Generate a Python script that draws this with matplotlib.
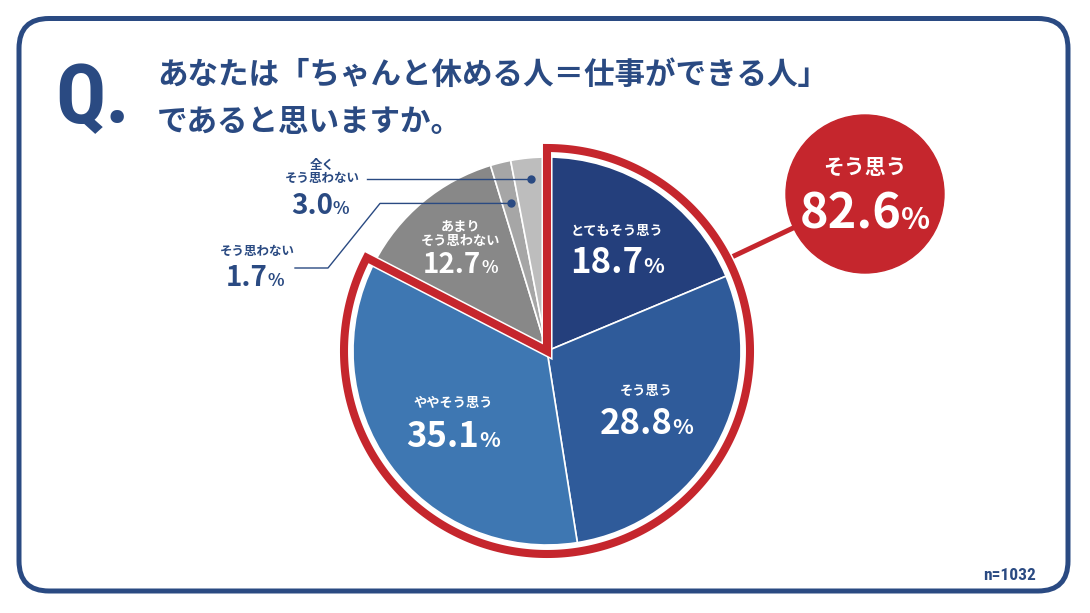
import numpy as np
import matplotlib
matplotlib.use("Agg")
import matplotlib.pyplot as plt
from matplotlib import font_manager
from matplotlib.patches import FancyBboxPatch, Circle, Polygon
import matplotlib.patheffects as pe

plt.rcParams['font.family'] = ['Noto Sans CJK JP', 'DejaVu Sans']

# data
labels = ['とてもそう思う', 'そう思う', 'ややそう思う', 'あまり\nそう思わない', 'そう思わない', '全く\nそう思わない']
values = [18.7, 28.8, 35.1, 12.7, 1.7, 3.0]
colors = ['#243f7c', '#2f5b9a', '#3e77b2', '#888888', '#a6a6a6', '#bdbdbd']
n_agree = 3            # first three slices = "そう思う" total
agree_label = 'そう思う'
title_lines = ['あなたは「ちゃんと休める人＝仕事ができる人」', 'であると思いますか。']
n_total = 1032

NAVY = '#2a4a82'
RED = '#c5262d'
W, H = 1090, 613

names = {f.name for f in font_manager.fontManager.ttflist}
narrow = [n for n in ['Liberation Sans Narrow', 'Roboto Condensed', 'DejaVu Sans Condensed',
                      'Liberation Sans'] if n in names][:1] + ['DejaVu Sans']
q_size = 74 if narrow[0] == 'Liberation Sans Narrow' else 60


def py(y):
    # pixel row (from top) -> data y
    return H - y


fig = plt.figure(figsize=(W / 100, H / 100), dpi=100)
ax = fig.add_axes([0, 0, 1, 1])

cx, cy, R = 547, py(351), 194
wedges, _ = ax.pie(values, colors=colors, startangle=90, counterclock=False,
                   radius=R, center=(cx, cy),
                   wedgeprops=dict(edgecolor='white', linewidth=1.2))
ax.set_xlim(0, W)
ax.set_ylim(0, H)
ax.set_aspect('equal')
ax.axis('off')

# frame
frame = FancyBboxPatch((19, py(591)), 1068 - 19, 591 - 18.5,
                       boxstyle='round,pad=0,rounding_size=30',
                       fill=False, edgecolor=NAVY, linewidth=3.6, zorder=1)
ax.add_patch(frame)

# red outline round the agree slices
frac = sum(values[:n_agree]) / sum(values)
Rr = 203
ang = np.radians(np.linspace(90, 90 - 360 * frac, 300))
pts = [(cx, cy)] + list(zip(cx + Rr * np.cos(ang), cy + Rr * np.sin(ang)))
ax.add_patch(Polygon(pts, closed=True, fill=False, edgecolor=RED, linewidth=5.8,
                     joinstyle='miter', zorder=5,
                     path_effects=[pe.Stroke(linewidth=8.0, foreground='white'), pe.Normal()]))

# callout circle
ccx, ccy, cr = 865, py(194), 79
a0 = np.radians(27)
ax.plot([cx + Rr * np.cos(a0), ccx], [cy + Rr * np.sin(a0), ccy], color=RED, lw=3.6, zorder=4,
        solid_capstyle='butt')
ax.add_patch(Circle((ccx, ccy), cr, color=RED, zorder=6))

pct_items = []


def pct_text(x, yc, value, size, color, z=7):
    cap = 0.73 * size * 100 / 72
    base = yc - cap / 2
    t1 = ax.text(x, base, f'{value:.1f}', fontsize=size, color=color, weight='bold',
                 ha='left', va='baseline', zorder=z)
    t2 = ax.text(x, base, '%', fontsize=size * 0.62, color=color, weight='bold',
                 ha='left', va='baseline', zorder=z)
    pct_items.append((x, t1, t2))


ax.text(ccx, py(167), agree_label, fontsize=15, color='white', weight='bold',
        ha='center', va='center', zorder=7)
pct_text(ccx, py(211), sum(values[:n_agree]), 35, 'white')


def mid_angle(w):
    return np.radians((w.theta1 + w.theta2) / 2)


# labels inside slices
inner_r = [126, 114, 116, 135]
inner_size = [25, 25, 25, 20]
lab_up = [15, 16, 16, 13]
num_down = [14, 15, 15, 16]
for i in range(4):
    a = mid_angle(wedges[i])
    x = cx + inner_r[i] * np.cos(a)
    y = cy + inner_r[i] * np.sin(a)
    ax.text(x, y + lab_up[i], labels[i], fontsize=9.5, color='white', weight='bold',
            ha='center', va='center', linespacing=1.0, zorder=7)
    pct_text(x, y - num_down[i], values[i], inner_size[i], 'white')

# small slices: dots + leader lines
a5 = mid_angle(wedges[5])
d5 = (cx + 173 * np.cos(a5), cy + 173 * np.sin(a5))
a4 = mid_angle(wedges[4])
d4 = (cx + 152 * np.cos(a4), cy + 152 * np.sin(a4))
ax.plot([367, d5[0]], [d5[1], d5[1]], color=NAVY, lw=1.0, zorder=3)
ax.plot([295, 328, 380, d4[0]], [py(268), py(268), d4[1], d4[1]], color=NAVY, lw=1.0, zorder=3)
ax.plot([d5[0], d4[0]], [d5[1], d4[1]], 'o', color=NAVY, ms=5, zorder=4)

ax.text(322, py(172), labels[5], fontsize=9, color=NAVY, weight='bold',
        ha='center', va='center', linespacing=1.05)
pct_text(320, py(204), values[5], 20, NAVY)
ax.text(257, py(251), labels[4], fontsize=9, color=NAVY, weight='bold',
        ha='center', va='center')
pct_text(255, py(276), values[4], 20, NAVY)

# title
ax.text(55, py(123), 'Q.', fontsize=q_size, family=narrow, weight='bold', color=NAVY,
        ha='left', va='baseline')
ax.text(157, py(75), title_lines[0], fontsize=22, weight='bold', color=NAVY,
        ha='left', va='center')
ax.text(157, py(122), title_lines[1], fontsize=22, weight='bold', color=NAVY,
        ha='left', va='center')

ax.text(1036, py(575), f'n={n_total}', fontsize=12.5, family=narrow, weight='bold',
        color=NAVY, ha='right', va='center')

# center number+% pairs now that sizes are known
fig.canvas.draw()
r = fig.canvas.get_renderer()
for x, t1, t2 in pct_items:
    w1 = t1.get_window_extent(r).width
    w2 = t2.get_window_extent(r).width
    left = x - (w1 + w2) / 2
    t1.set_x(left)
    t2.set_x(left + w1)

fig.savefig('out.png', dpi=100)
